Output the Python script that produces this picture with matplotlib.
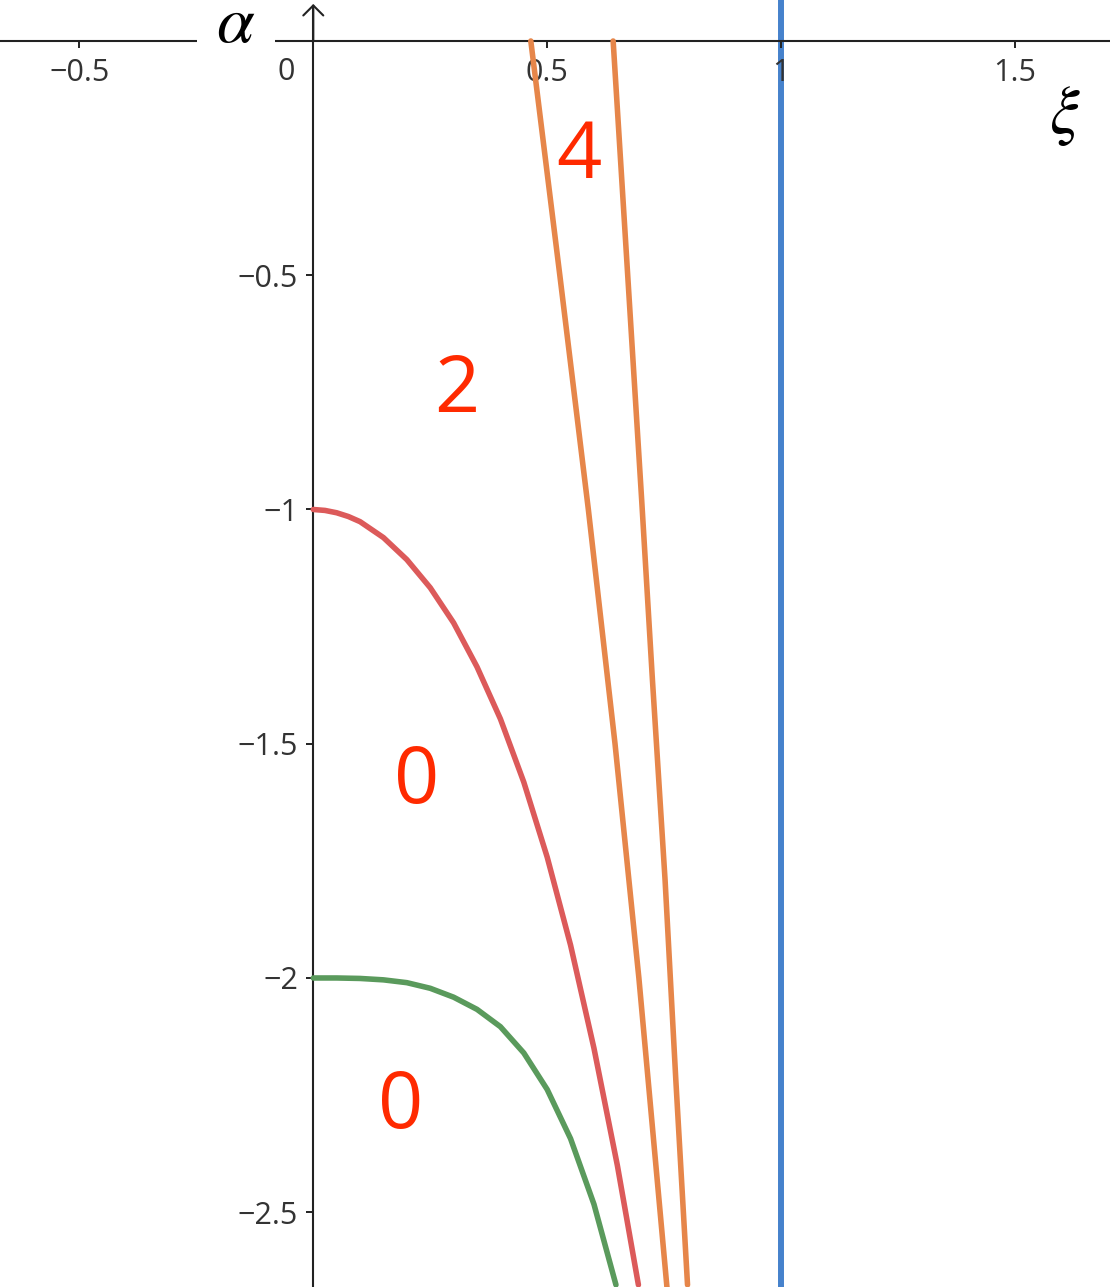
import matplotlib
matplotlib.use('Agg')
import matplotlib.pyplot as plt
from matplotlib.patches import Rectangle

plt.rcParams['font.family'] = ['Open Sans', 'DejaVu Sans']
plt.rcParams['mathtext.fontset'] = 'stix'

# curves (xi, alpha)
red_xi = [0, 0.025, 0.05, 0.075, 0.10, 0.15, 0.20, 0.25, 0.30, 0.35, 0.40, 0.45,
          0.50, 0.55, 0.60, 0.65, 0.695]
red_alpha = [-1.000, -1.002, -1.007, -1.015, -1.026, -1.060, -1.107, -1.167, -1.242, -1.336,
             -1.447, -1.582, -1.742, -1.930, -2.150, -2.400, -2.655]

green_xi = [0, 0.05, 0.10, 0.15, 0.20, 0.25, 0.30, 0.35, 0.40, 0.45, 0.50, 0.55, 0.60, 0.647]
green_alpha = [-2.000, -2.000, -2.001, -2.004, -2.010, -2.022, -2.041, -2.067, -2.104, -2.160,
               -2.238, -2.343, -2.483, -2.655]

orange1_xi = [0.465, 0.527, 0.588, 0.645, 0.696, 0.726, 0.756]
orange1_alpha = [0, -0.5, -1.0, -1.5, -2.0, -2.33, -2.66]

orange2_xi = [0.641, 0.702, 0.725, 0.752, 0.775, 0.800]
orange2_alpha = [0, -0.980, -1.364, -1.791, -2.218, -2.655]

blue_xi = 1.0

# region labels (number of solutions)
region_text = ['4', '2', '0', '0']
region_xi = [0.568, 0.307, 0.221, 0.187]
region_alpha = [-0.292, -0.791, -1.627, -2.321]

xticks = [-0.5, 0.5, 1, 1.5]
xtick_labels = ['\u22120.5', '0.5', '1', '1.5']
yticks = [-2.5, -2, -1.5, -1, -0.5]
ytick_labels = ['\u22122.5', '\u22122', '\u22121.5', '\u22121', '\u22120.5']

fig = plt.figure(figsize=(11.1, 12.87), dpi=100)
ax = fig.add_axes([0, 0, 1, 1])
ax.set_xlim(-0.6697, 1.7031)
ax.set_ylim(-2.6596, 0.0875)
ax.set_axisbelow(False)  # tick labels above the blue line

lw = 4.0
ax.axvline(blue_xi, color='#4682cc', lw=4.3, zorder=2)
for xs, ys, c in [(red_xi, red_alpha, '#dc5a5a'),
                  (green_xi, green_alpha, '#5a9a5c'),
                  (orange1_xi, orange1_alpha, '#e6864a'),
                  (orange2_xi, orange2_alpha, '#e6864a')]:
    ax.plot(xs, ys, color=c, lw=lw, solid_capstyle='round', solid_joinstyle='round', zorder=3)

for t, x, y in zip(region_text, region_xi, region_alpha):
    ax.text(x, y, t, ha='center', va='baseline', fontsize=57, color='#ff2a00', zorder=4)

# axes through the origin
for s in ['top', 'right']:
    ax.spines[s].set_visible(False)
ax.spines['left'].set_position(('data', 0))
ax.spines['bottom'].set_position(('data', 0))
for s in ['left', 'bottom']:
    ax.spines[s].set_color('#222222')
    ax.spines[s].set_linewidth(1.5)
ax.spines['left'].set_bounds(-2.7, 0.075)

ax.set_xticks(xticks)
ax.set_xticklabels(xtick_labels)
ax.set_yticks(yticks)
ax.set_yticklabels(ytick_labels)
ax.tick_params(axis='both', direction='out', length=5, width=1.4, color='#222222',
               labelsize=22, labelcolor='#333333')
ax.tick_params(axis='x', pad=7)
ax.tick_params(axis='y', pad=6)

ax.annotate('0', xy=(0, 0), xytext=(-27, -31), textcoords='offset pixels',
            ha='center', va='center', fontsize=22, color='#333333')

# arrow head on the alpha axis
ax.annotate('', xy=(0, 0.079), xytext=(0, 0.0),
            arrowprops=dict(arrowstyle='->,head_length=0.36,head_width=0.36', lw=1.5,
                            color='#222222', mutation_scale=20, shrinkA=0, shrinkB=0))

# white gap in the xi axis behind the alpha label
ax.add_patch(Rectangle((-0.249, -0.02), 0.167, 0.045, facecolor='white',
                       edgecolor='none', zorder=2.6))
ax.text(-0.165, -0.002, r'$\alpha$', ha='center', va='baseline', fontsize=49,
        color='black', zorder=5)
ax.text(1.607, -0.159, r'$\xi$', ha='center', va='center', fontsize=48, color='black')

fig.savefig('out.png', dpi=100)
